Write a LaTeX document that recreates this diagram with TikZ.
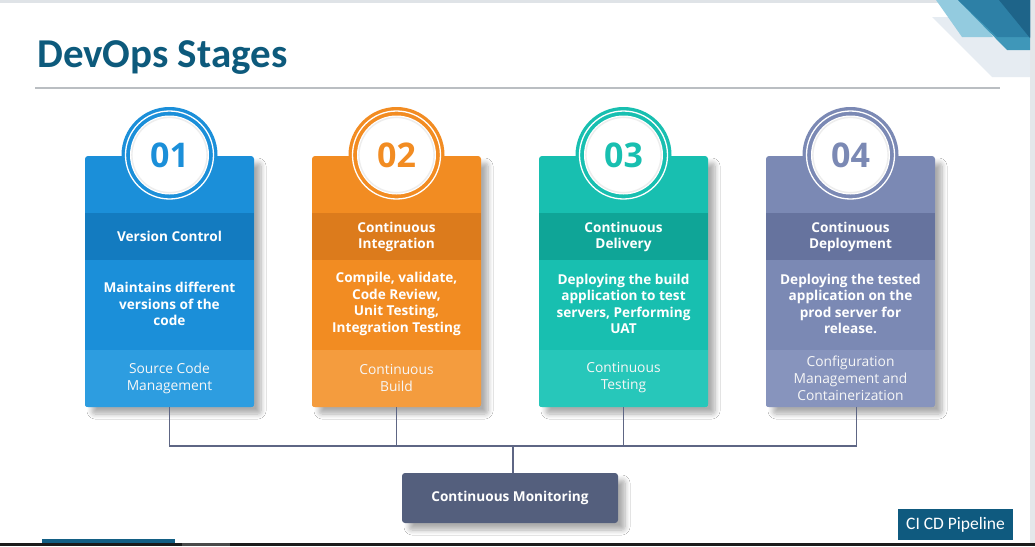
\documentclass[tikz,border=0pt]{standalone}
\usepackage{fontspec}
\setmainfont{Open Sans}
\newfontfamily\slidefont{Carlito}
\usetikzlibrary{shadows.blur,calc}

\definecolor{titleblue}{HTML}{0D5A7C}
\definecolor{rulegrey}{HTML}{BABEC2}
\definecolor{wireclr}{HTML}{5E6684}
\definecolor{monfill}{HTML}{545F7D}
\definecolor{cicdfill}{HTML}{0F5A7F}
\definecolor{stripgrey}{HTML}{DFE3E7}
\definecolor{edgegrey}{HTML}{E4E7EA}
\definecolor{ornpale}{HTML}{E6ECF2}
\definecolor{ornlight}{HTML}{93CBDF}
\definecolor{ornmidlow}{HTML}{3F97B9}
\definecolor{ornmid}{HTML}{2D80A6}
\definecolor{orndark}{HTML}{1E6489}
\definecolor{barteal}{HTML}{135F84}
\definecolor{barblack}{HTML}{1C1C1C}
\definecolor{bargrey}{HTML}{4A4A4A}

\definecolor{bluemain}{HTML}{1B8FD9}
\definecolor{bluedark}{HTML}{137BC0}
\definecolor{bluelight}{HTML}{2D9DE0}
\definecolor{orgmain}{HTML}{F28C22}
\definecolor{orgdark}{HTML}{DC7B1C}
\definecolor{orglight}{HTML}{F49C3E}
\definecolor{tealmain}{HTML}{18BFB0}
\definecolor{tealdark}{HTML}{0FA597}
\definecolor{teallight}{HTML}{27C7BA}
\definecolor{slatemain}{HTML}{7B89B4}
\definecolor{slatedark}{HTML}{66739E}
\definecolor{slatelight}{HTML}{8794BD}

% One stage card: name, centre x, main/dark/light colours, number, title, body, footer
\newcommand\stagecard[9]{%
  \node[cardbox, fill=#3] (#1) at (#2,281.5) {};
  \begin{scope}
    \clip[rounded corners=3pt] (#1.north west) rectangle (#1.south east);
    \fill[#4] ($(#1.north west)+(0,57)$) rectangle ($(#1.north east)+(0,104)$);
    \fill[#5] ($(#1.north west)+(0,194)$) rectangle (#1.south east);
  \end{scope}
  \node[badge, fill=#3] (#1b) at (#2,155) {};
  \draw[white, line width=1.3pt] (#1b.center) circle[radius=44];
  \fill[white] (#1b.center) circle[radius=39.5];
  \draw[black!7, line width=1.4pt] (#1b.center) circle[radius=37.6];
  \node[numtext, text=#3] (#1n) at (#2,155) {#6};
  \node[bandtext] (#1t) at (#2,236.5) {#7};
  \node[bodytext] (#1d) at (#2,304) {#8};
  \node[foottext] (#1f) at (#2,378) {#9};
}

\begin{document}
\begin{tikzpicture}[x=1pt,y=-1pt,
  cardbox/.style={rectangle, rounded corners=3pt, minimum width=169pt,
    minimum height=251pt, inner sep=0pt,
    blur shadow={shadow xshift=7pt, shadow yshift=-7pt, shadow blur steps=8,
      shadow blur radius=5pt, shadow opacity=32}},
  badge/.style={circle, minimum size=96pt, inner sep=0pt},
  numtext/.style={font=\bfseries\fontsize{34}{34}\selectfont, inner sep=0pt},
  bandtext/.style={text=white, align=center, inner sep=0pt,
    font=\bfseries\fontsize{13.6}{16}\selectfont},
  bodytext/.style={text=white, align=center, inner sep=0pt,
    font=\bfseries\fontsize{13.6}{16.5}\selectfont},
  foottext/.style={text=white!94!gray, align=center, inner sep=0pt,
    font=\fontsize{13.8}{17}\selectfont},
  wire/.style={draw=wireclr, line width=1.6pt},
]
\useasboundingbox (0,0) rectangle (1035,546);
\fill[white] (0,0) rectangle (1035,546);

% slide frame strips
\fill[stripgrey] (0,0) rectangle (1035,3);
\fill[edgegrey] (1030,0) rectangle (1035,543);

% corner ornament
\fill[ornpale] (932,17) -- (1030,17) -- (1030,77) -- (992,77) -- cycle;
\fill[ornlight] (936,0) -- (968,0) -- (993,37) -- (962,37) -- cycle;
\fill[ornmidlow] (958,0) -- (1030,0) -- (1030,50) -- (1007,50) -- cycle;
\fill[ornmid] (958,0) -- (1030,0) -- (1030,37) -- (997,37) -- cycle;
\fill[orndark] (999,0) -- (1030,0) -- (1030,38) -- cycle;

% heading
\node[anchor=base west, inner sep=0pt, text=titleblue,
  font=\slidefont\bfseries\fontsize{41}{41}\selectfont] (title) at (37,67) {DevOps Stages};
\draw[rulegrey, line width=2pt] (35,88) -- (1000,88);

% stage cards
\stagecard{s1}{169.5}{bluemain}{bluedark}{bluelight}{01}
  {Version Control}
  {Maintains different\\versions of the\\code}
  {Source Code\\Management}
\stagecard{s2}{396.5}{orgmain}{orgdark}{orglight}{02}
  {Continuous\\Integration}
  {Compile, validate,\\Code Review,\\Unit Testing,\\Integration Testing}
  {Continuous\\Build}
\stagecard{s3}{623.5}{tealmain}{tealdark}{teallight}{03}
  {Continuous\\Delivery}
  {Deploying the build\\application to test\\servers, Performing\\UAT}
  {Continuous\\Testing}
\stagecard{s4}{850.5}{slatemain}{slatedark}{slatelight}{04}
  {Continuous\\Deployment}
  {Deploying the tested\\application on the\\prod server for\\release.}
  {Configuration\\Management and\\Containerization}

% monitoring box
\node[rectangle, rounded corners=3pt, fill=monfill, minimum width=216pt,
  minimum height=50pt, inner sep=0pt, text=white,
  font=\bfseries\fontsize{13.6}{16}\selectfont,
  blur shadow={shadow xshift=7pt, shadow yshift=-7pt, shadow blur steps=8,
    shadow blur radius=5pt, shadow opacity=32}] (mon) at (510,498) {Continuous Monitoring};

% bus joining the stages to monitoring
\coordinate (busy) at (0,446);
\coordinate (s4tap) at ($(s4.south)+(6,0)$);
\coordinate (montap) at ($(mon.north)+(3,0)$);
\draw[wire] (s1.south) |- (s4tap |- busy) -- (s4tap);
\draw[wire] (s2.south) -- (s2.south |- busy);
\draw[wire] (s3.south) -- (s3.south |- busy);
\draw[wire] (montap) -- (montap |- busy);

% footer tag
\node[fill=cicdfill, text=white, inner sep=0pt, minimum width=115pt,
  minimum height=31pt, font=\slidefont\fontsize{17.5}{20}\selectfont] (cicd) at (955.5,524.5) {CI CD Pipeline};

% bottom bar
\fill[barteal] (42,539) rectangle (175,543);
\fill[barblack] (0,543) rectangle (1035,546);
\fill[bargrey] (182,543) rectangle (230,546);
\end{tikzpicture}
\end{document}
